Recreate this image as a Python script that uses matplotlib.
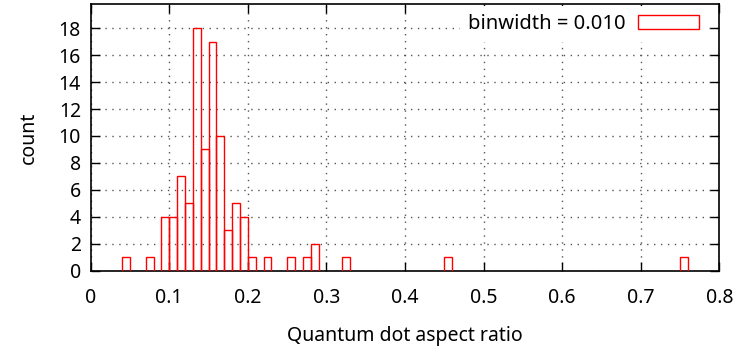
import matplotlib

matplotlib.use("Agg")
import matplotlib.pyplot as plt
import numpy as np

# histogram bins (left edges) and counts, binwidth 0.01
BINWIDTH = 0.010
bin_left = [0.04, 0.07, 0.09, 0.10, 0.11, 0.12, 0.13, 0.14, 0.15, 0.16,
            0.17, 0.18, 0.19, 0.20, 0.22, 0.25, 0.27, 0.28, 0.32, 0.45, 0.75]
counts = [1, 1, 4, 4, 7, 5, 18, 9, 17, 10,
          3, 5, 4, 1, 1, 1, 1, 2, 1, 1, 1]

x_ticks = [0, 0.1, 0.2, 0.3, 0.4, 0.5, 0.6, 0.7, 0.8]
y_ticks = list(range(0, 19, 2))

plt.rcParams["font.family"] = ["Noto Sans", "DejaVu Sans"]
FS = 14

fig = plt.figure(figsize=(7.39, 3.58), dpi=100)
ax = fig.add_axes([0.1227, 0.2439, 0.9733 - 0.1227, 0.9888 - 0.2439])

ax.bar(bin_left, counts, width=BINWIDTH, align="edge", fill=False,
       edgecolor="#ff0000", linewidth=1.0, label="binwidth = 0.010", zorder=3)

ax.set_xlim(0, 0.8)
ax.set_ylim(0, 19.8)
ax.set_xticks(x_ticks)
ax.set_xticklabels([f"{t:g}" for t in x_ticks])
ax.set_yticks(y_ticks)
ax.tick_params(direction="in", top=True, right=True, length=6.5, width=1,
               labelsize=FS, pad=7)
ax.tick_params(axis="x", pad=12.5)
ax.grid(True, color="#555555", linestyle=(0, (1, 4)), linewidth=1.0)
for s in ax.spines.values():
    s.set_linewidth(1.2)

ax.set_xlabel("Quantum dot aspect ratio", fontsize=FS, labelpad=13)
ax.set_ylabel("count", fontsize=FS, labelpad=14)

leg = ax.legend(loc="upper right", frameon=True, fancybox=False, fontsize=14.5,
                markerfirst=False, handlelength=3.0, handleheight=0.7,
                handletextpad=0.6, borderaxespad=0.1, borderpad=0.4,
                facecolor="white", edgecolor="none", framealpha=1.0)
leg.set_bbox_to_anchor((0.983, 1.0), transform=ax.transAxes)

fig.savefig("out.png", dpi=100)
